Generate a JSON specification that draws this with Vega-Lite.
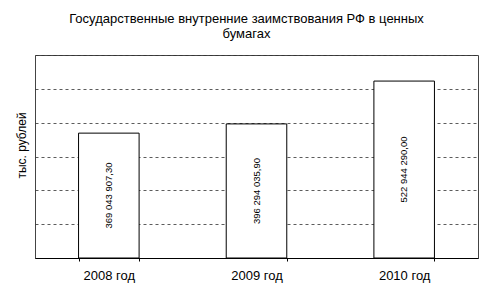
{
  "$schema": "https://vega.github.io/schema/vega-lite/v6.json",
  "width": 443,
  "height": 203,
  "autosize": "none",
  "padding": {"left": 35, "top": 55, "right": 13, "bottom": 37},
  "background": "white",
  "config": {
    "locale": {"number": {"decimal": ",", "thousands": " ", "grouping": [3], "currency": ["", ""]}},
    "font": "Liberation Sans",
    "view": {"stroke": "#444", "strokeWidth": 1},
    "axisY": {
      "title": "тыс. рублей",
      "labels": false,
      "ticks": false,
      "domain": false,
      "values": [100000000, 200000000, 300000000, 400000000, 500000000],
      "gridDash": [3, 3],
      "gridColor": "#333",
      "gridOpacity": 0.8,
      "titleFontSize": 12,
      "titleFontWeight": "normal",
      "titleColor": "black",
      "titleX": -7,
      "titleY": 90
    }
  },
  "title": {
    "text": ["Государственные внутренние заимствования РФ в ценных", "бумагах"],
    "fontSize": 13,
    "fontWeight": "normal",
    "color": "black",
    "anchor": "middle",
    "frame": "group",
    "dx": -10,
    "offset": 14,
    "lineHeight": 15
  },
  "data": {
    "values": [
      {"year": "2008 год", "value": 369043907.30},
      {"year": "2009 год", "value": 396294035.90},
      {"year": "2010 год", "value": 522944290.00}
    ]
  },
  "transform": [{"calculate": "datum.value / 2", "as": "mid"}],
  "encoding": {
    "x": {
      "field": "year",
      "type": "nominal",
      "scale": {"paddingInner": 0.59, "paddingOuter": 0.295},
      "axis": {
        "title": null,
        "labelAngle": 0,
        "labelFontSize": 13,
        "labelColor": "black",
        "domainColor": "black",
        "tickColor": "black",
        "tickBand": "extent",
        "tickSize": 3,
        "labelPadding": 8
      }
    }
  },
  "layer": [
    {
      "mark": {"type": "bar", "fill": "white", "stroke": "black", "strokeWidth": 1},
      "encoding": {
        "y": {
          "field": "value",
          "type": "quantitative",
          "title": "тыс. рублей",
          "scale": {"domain": [0, 600000000], "nice": false}
        }
      }
    },
    {
      "mark": {"type": "text", "angle": 270, "fontSize": 9.5, "color": "black", "align": "center", "baseline": "middle"},
      "encoding": {
        "y": {"field": "mid", "type": "quantitative", "title": "тыс. рублей"},
        "text": {"field": "value", "type": "quantitative", "format": ",.2f"}
      }
    }
  ]
}
